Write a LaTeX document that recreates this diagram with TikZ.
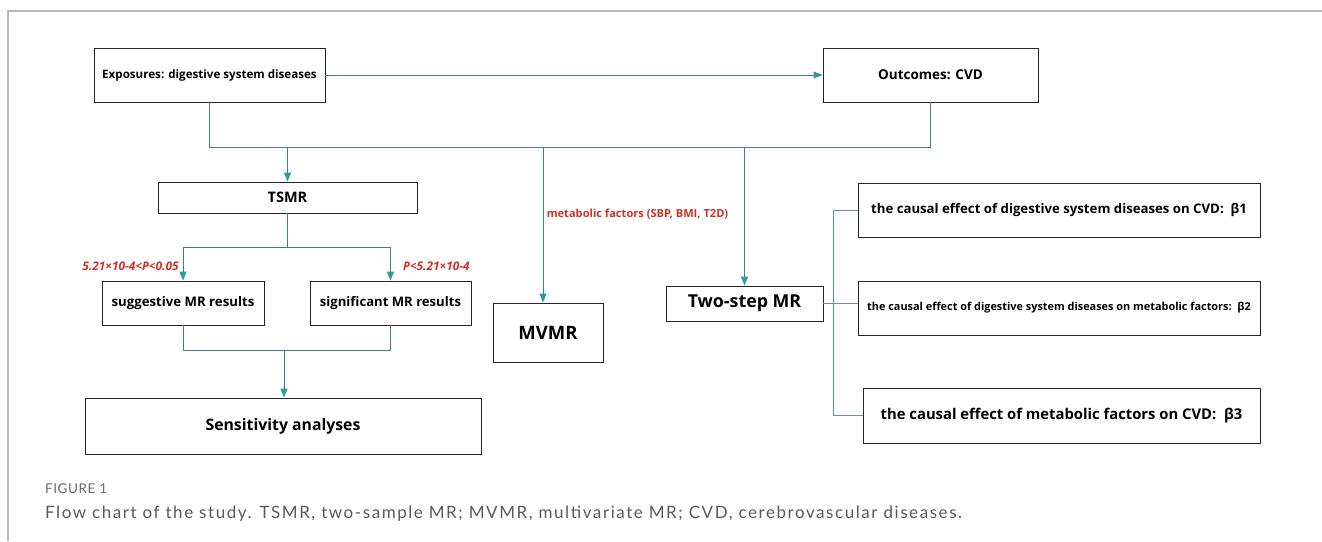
\documentclass[tikz,border=0pt]{standalone}
\usepackage{fontspec}
\setmainfont{Open Sans}
\newfontfamily\capfont[LetterSpace=9.2]{Lato}
\newfontfamily\figfont[LetterSpace=4]{Lato}
\usetikzlibrary{arrows.meta}
\definecolor{linec}{HTML}{3F7C8C}
\definecolor{linel}{HTML}{5B96A8}
\definecolor{tipc}{HTML}{2A9D9A}
\definecolor{redc}{HTML}{D0302A}
\definecolor{capg}{HTML}{5A5A5A}
\tikzset{
  box/.style={draw=black!85, line width=0.9pt, fill=white, inner sep=0pt, align=center, font=\bfseries},
  conn/.style={draw=linec, line width=1pt},
  connl/.style={draw=linel, line width=1pt},
  arr/.style={conn, -{Triangle[length=9pt,width=7pt,color=tipc]}},
  redlab/.style={text=redc, font=\bfseries\itshape\fontsize{11.9}{13}\selectfont, inner sep=0pt},
}
\begin{document}
\begin{tikzpicture}[x=1pt,y=-1pt]
\useasboundingbox (0,0) rectangle (1322,541);
\draw[gray!55, line width=1.2pt] (1322,11) -- (8,11) -- (8,541);

\node[box, minimum width=231, minimum height=54, font=\bfseries\fontsize{11.6}{13}\selectfont] (exp) at (209.5,75) {Exposures: digestive system diseases};
\node[box, minimum width=215, minimum height=54, font=\bfseries\fontsize{13.5}{15}\selectfont] (out) at (930.5,75) {Outcomes: CVD};
\coordinate (bus) at (0,147);

\node[box, minimum width=259, minimum height=31, font=\bfseries\fontsize{14.5}{17}\selectfont] (tsmr) at (287.5,197.5) {TSMR};
\node[box, minimum width=162, minimum height=44, font=\bfseries\fontsize{13.2}{15}\selectfont] (sug) at (183,303) {suggestive MR results};
\node[box, minimum width=161, minimum height=44, font=\bfseries\fontsize{13.1}{15}\selectfont] (sig) at (390.5,303) {significant MR results};
\node[box, minimum width=396, minimum height=56, font=\bfseries\fontsize{15.8}{18}\selectfont] (sens) at (283,426) {Sensitivity analyses};
\node[box, minimum width=110, minimum height=59, font=\bfseries\fontsize{18.5}{21}\selectfont] (mvmr) at (548,332.5) {MVMR};
\node[box, minimum width=157, minimum height=35, font=\bfseries\fontsize{17.8}{20}\selectfont] (two) at (744.5,303.5) {Two-step MR};
\node[box, minimum width=402, minimum height=54, font=\bfseries\fontsize{13.2}{15}\selectfont] (b1) at (1059,210) {the causal effect of digestive system diseases on CVD:\ \ β1};
\node[box, minimum width=402, minimum height=54, font=\bfseries\fontsize{10.9}{13}\selectfont] (b2) at (1059,308) {the causal effect of digestive system diseases on metabolic factors:\ \ β2};
\node[box, minimum width=397, minimum height=55, font=\bfseries\fontsize{14.8}{17}\selectfont] (b3) at (1061.5,415.5) {the causal effect of metabolic factors on CVD:\ \ β3};

% top connectors
\draw[arr] (exp.east) -- (out.west);
\draw[conn] (exp.south) -- (exp.south|-bus) -- (out.south|-bus) -- (out.south);
\draw[arr] (tsmr.north|-bus) -- (tsmr.north);
\draw[arr] ([xshift=-5pt]mvmr.north|-bus) -- ([xshift=-5pt]mvmr.north);
\draw[arr] (two.north|-bus) -- (two.north);

% TSMR split
\coordinate (split) at (0,247);
\draw[conn] (tsmr.south) -- (tsmr.south|-split);
\draw[conn] (sug.north|-split) -- (sig.north|-split);
\draw[arr] (sug.north|-split) -- (sug.north);
\draw[arr] (sig.north|-split) -- (sig.north);

% merge
\coordinate (merge) at (0,350);
\draw[conn] (sug.south) -- (sug.south|-merge) -- (sig.south|-merge) -- (sig.south);
\draw[arr] ([xshift=1pt]sens.north|-merge) -- ([xshift=1pt]sens.north);

% labels
\node[redlab] (l1) at (130.5,266) {5.21×10-4<P<0.05};
\node[redlab] (l2) at (436.5,266) {P<5.21×10-4};
\node[text=redc, font=\bfseries\fontsize{11.1}{13}\selectfont, inner sep=0pt] (l3) at (637.5,214) {metabolic factors (SBP, BMI, T2D)};

% two-step branches
\coordinate (v) at (833,0);
\draw[connl] (two.east) -- (two.east-|b2.west);
\draw[connl] (b1.west) -- (v|-b1.west) -- (v|-b3.west) -- (b3.west);

% caption
\node[anchor=base west, inner sep=0pt, text=capg!90, font=\figfont\fontsize{13.5}{15}\selectfont] (fig) at (45,493) {FIGURE 1};
\node[anchor=base west, inner sep=0pt, text=capg, font=\capfont\fontsize{17}{19}\selectfont] (cap) at (45,518) {Flow chart of the study. TSMR, two-sample MR; MVMR, multivariate MR; CVD, cerebrovascular diseases.};
\end{tikzpicture}
\end{document}
